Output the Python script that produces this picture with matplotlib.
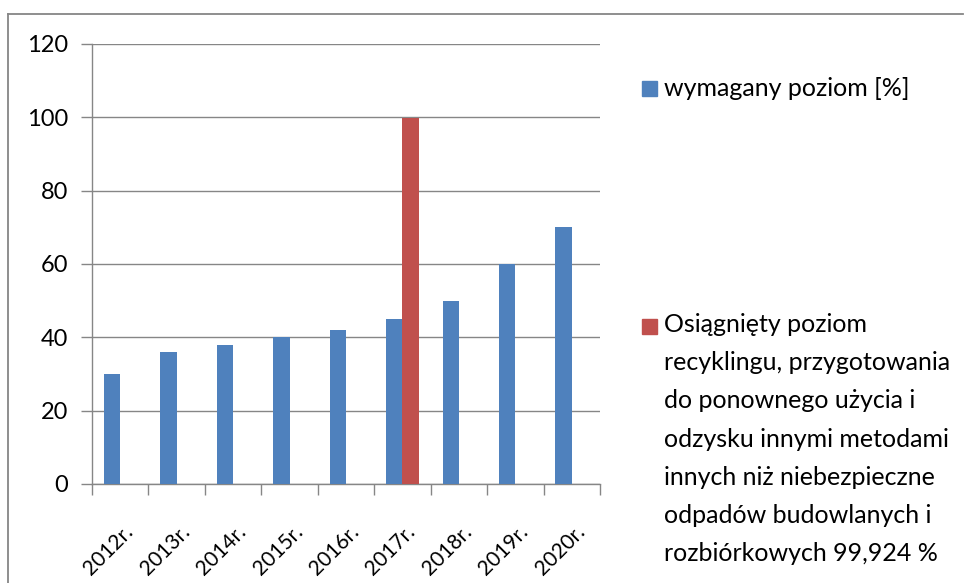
import matplotlib
matplotlib.use("Agg")
import matplotlib.pyplot as plt
from matplotlib.patches import Rectangle
from matplotlib.lines import Line2D
import numpy as np

categories = ["2012r.", "2013r.", "2014r.", "2015r.", "2016r.", "2017r.", "2018r.", "2019r.", "2020r."]
required = [30, 36, 38, 40, 42, 45, 50, 60, 70]
achieved = [0, 0, 0, 0, 0, 99.924, 0, 0, 0]
label_required = "wymagany poziom [%]"
label_achieved = ("Osiągnięty poziom\nrecyklingu, przygotowania\ndo ponownego użycia i\n"
                  "odzysku innymi metodami\ninnych niż niebezpieczne\nodpadów budowlanych i\n"
                  "rozbiórkowych 99,924 %")
yticks = [0, 20, 40, 60, 80, 100, 120]

BLUE = "#4F81BD"
RED = "#C0504D"
GRID = "#868686"
FONT = "Lato"

plt.rcParams["font.family"] = [FONT, "DejaVu Sans"]

fig = plt.figure(figsize=(9.64, 5.83), dpi=100)
ax = fig.add_axes([92/964, 1-484/583, (600-92)/964, (484-44)/583])

x = np.arange(len(categories))
w = 0.29
ax.bar(x - w/2, required, width=w, color=BLUE, zorder=3)
ach = [v if v > 0 else np.nan for v in achieved]
ax.bar(x + w/2, ach, width=w, color=RED, zorder=3)

ax.set_xlim(-0.5, len(categories) - 0.5)
ax.set_ylim(0, 120)
ax.set_yticks(yticks)
ax.set_yticklabels([str(t) for t in yticks])
ax.yaxis.grid(True, color=GRID, linewidth=1, zorder=0)
ax.tick_params(axis="y", length=8, color=GRID, width=1, pad=9, labelsize=17)

ax.set_xticks(x + 0.05)
ax.set_xticklabels(categories, rotation=45, ha="right", rotation_mode="anchor")
ax.set_xticks(np.arange(len(categories) + 1) - 0.5, minor=True)
ax.tick_params(axis="x", which="major", length=0, pad=27, labelsize=15)
ax.tick_params(axis="x", which="minor", length=8, color=GRID, width=1)

for s in ["top", "right"]:
    ax.spines[s].set_visible(False)
for s in ["left", "bottom"]:
    ax.spines[s].set_color(GRID)
    ax.spines[s].set_linewidth(1)

# legend
fig.patches.append(Rectangle((642/964, 1-96/583), 15/964, 15/583, transform=fig.transFigure,
                             color=BLUE, zorder=5))
fig.text(664/964, 1-88/583, label_required, fontsize=18, va="center", ha="left")
fig.patches.append(Rectangle((642/964, 1-334/583), 15/964, 15/583, transform=fig.transFigure,
                             color=RED, zorder=5))
fig.text(664/964, 1-313/583, label_achieved, fontsize=18, va="top", ha="left", linespacing=1.8)

# outer border (top and left visible)
fig.lines.append(Line2D([8/964, 963/964], [1-13.5/583, 1-13.5/583], transform=fig.transFigure,
                        color=GRID, linewidth=1.3))
fig.lines.append(Line2D([8/964, 8/964], [1-13.5/583, 0], transform=fig.transFigure,
                        color=GRID, linewidth=1.3))

fig.savefig("out.png", dpi=100)
